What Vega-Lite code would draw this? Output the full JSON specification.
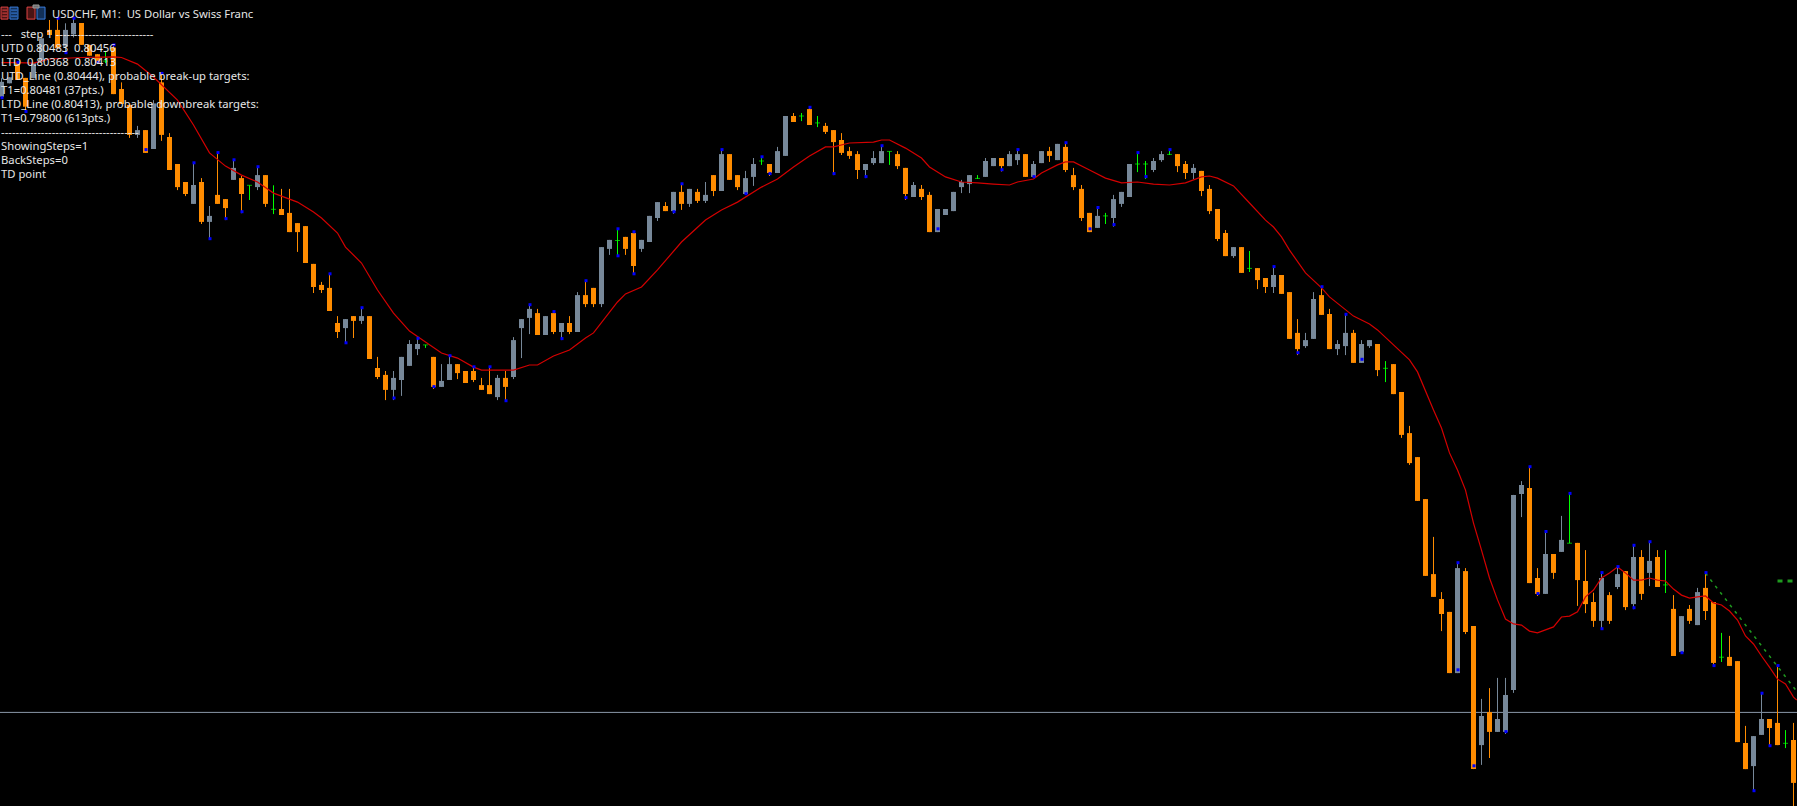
{"$schema":"https://vega.github.io/schema/vega-lite/v6.json","width":1797,"height":806,"autosize":{"type":"none"},"padding":0,"background":"#000000","config":{"view":{"stroke":null},"axis":{"disable":true},"scale":{"continuousPadding":0}},"datasets":{"candles":[
{"k":0,"type":"up","o":0.806424,"h":0.806486,"l":0.806418,"c":0.806474},
{"k":1,"type":"up","o":0.806469,"h":0.806489,"l":0.806469,"c":0.806489},
{"k":2,"type":"down","o":0.806536,"h":0.806539,"l":0.80648,"c":0.80648},
{"k":3,"type":"down","o":0.806487,"h":0.806487,"l":0.806375,"c":0.806391},
{"k":4,"type":"up","o":0.806486,"h":0.806536,"l":0.806486,"c":0.806536},
{"k":5,"type":"up","o":0.806541,"h":0.806619,"l":0.806541,"c":0.806619},
{"k":6,"type":"down","o":0.806647,"h":0.80668,"l":0.80663,"c":0.80663},
{"k":7,"type":"down","o":0.806647,"h":0.806686,"l":0.806586,"c":0.806586},
{"k":8,"type":"up","o":0.806591,"h":0.806669,"l":0.806571,"c":0.806647},
{"k":9,"type":"up","o":0.806632,"h":0.806686,"l":0.806622,"c":0.80667},
{"k":10,"type":"down","o":0.80667,"h":0.80667,"l":0.806597,"c":0.806597},
{"k":11,"type":"down","o":0.806597,"h":0.806597,"l":0.806561,"c":0.806561},
{"k":12,"type":"down","o":0.806566,"h":0.806566,"l":0.806536,"c":0.806536},
{"k":13,"type":"doji","o":0.806543,"h":0.806577,"l":0.806536,"c":0.806543},
{"k":14,"type":"down","o":0.806588,"h":0.806597,"l":0.806433,"c":0.806433},
{"k":15,"type":"down","o":0.80645,"h":0.806472,"l":0.8064,"c":0.8064},
{"k":16,"type":"down","o":0.806397,"h":0.806397,"l":0.806287,"c":0.806297},
{"k":17,"type":"up","o":0.806297,"h":0.806327,"l":0.806287,"c":0.806313},
{"k":18,"type":"down","o":0.806313,"h":0.806313,"l":0.806237,"c":0.806237},
{"k":19,"type":"up","o":0.80625,"h":0.806413,"l":0.80625,"c":0.806402},
{"k":20,"type":"down","o":0.806472,"h":0.806502,"l":0.806277,"c":0.806297},
{"k":21,"type":"down","o":0.80629,"h":0.806303,"l":0.80618,"c":0.80618},
{"k":22,"type":"down","o":0.8062,"h":0.8062,"l":0.806113,"c":0.806123},
{"k":23,"type":"down","o":0.80614,"h":0.80614,"l":0.806093,"c":0.8061},
{"k":24,"type":"up","o":0.806067,"h":0.806204,"l":0.806067,"c":0.80613},
{"k":25,"type":"down","o":0.80614,"h":0.806153,"l":0.806,"c":0.806007},
{"k":26,"type":"up","o":0.806007,"h":0.80606,"l":0.805947,"c":0.806027},
{"k":27,"type":"down","o":0.806097,"h":0.806238,"l":0.806067,"c":0.806067},
{"k":28,"type":"down","o":0.806083,"h":0.806083,"l":0.806013,"c":0.806053},
{"k":29,"type":"up","o":0.806147,"h":0.806214,"l":0.806147,"c":0.806187},
{"k":30,"type":"down","o":0.806153,"h":0.80616,"l":0.806036,"c":0.8061},
{"k":31,"type":"doji","o":0.806129,"h":0.806129,"l":0.80608,"c":0.806129},
{"k":32,"type":"up","o":0.806123,"h":0.806191,"l":0.806113,"c":0.806163},
{"k":33,"type":"down","o":0.806163,"h":0.806163,"l":0.806057,"c":0.806067},
{"k":34,"type":"doji","o":0.806049,"h":0.806129,"l":0.806033,"c":0.806049},
{"k":35,"type":"down","o":0.80605,"h":0.806117,"l":0.80603,"c":0.80603},
{"k":36,"type":"down","o":0.806037,"h":0.806117,"l":0.805973,"c":0.805973},
{"k":37,"type":"down","o":0.806003,"h":0.806003,"l":0.805907,"c":0.805973},
{"k":38,"type":"down","o":0.805993,"h":0.805993,"l":0.80587,"c":0.80587},
{"k":39,"type":"down","o":0.805867,"h":0.805867,"l":0.80577,"c":0.80579},
{"k":40,"type":"down","o":0.805797,"h":0.805807,"l":0.80577,"c":0.80578},
{"k":41,"type":"down","o":0.805787,"h":0.805834,"l":0.80571,"c":0.80571},
{"k":42,"type":"down","o":0.80567,"h":0.805693,"l":0.80562,"c":0.80564},
{"k":43,"type":"up","o":0.805653,"h":0.805683,"l":0.8056,"c":0.805683},
{"k":44,"type":"down","o":0.805693,"h":0.805693,"l":0.80562,"c":0.805677},
{"k":45,"type":"up","o":0.805677,"h":0.805721,"l":0.805667,"c":0.805693},
{"k":46,"type":"down","o":0.805693,"h":0.805693,"l":0.80555,"c":0.80555},
{"k":47,"type":"down","o":0.80552,"h":0.805557,"l":0.805483,"c":0.80549},
{"k":48,"type":"down","o":0.805497,"h":0.80551,"l":0.805413,"c":0.805447},
{"k":49,"type":"up","o":0.805447,"h":0.80551,"l":0.805413,"c":0.805487},
{"k":50,"type":"up","o":0.80548,"h":0.805557,"l":0.805427,"c":0.805557},
{"k":51,"type":"up","o":0.805527,"h":0.805613,"l":0.805527,"c":0.8056},
{"k":52,"type":"up","o":0.805583,"h":0.805619,"l":0.805563,"c":0.8056},
{"k":53,"type":"doji","o":0.805597,"h":0.805597,"l":0.805587,"c":0.805597},
{"k":54,"type":"down","o":0.805557,"h":0.805557,"l":0.80545,"c":0.805457},
{"k":55,"type":"up","o":0.805457,"h":0.805533,"l":0.805457,"c":0.805477},
{"k":56,"type":"up","o":0.80548,"h":0.805561,"l":0.80548,"c":0.805533},
{"k":57,"type":"down","o":0.805533,"h":0.805533,"l":0.805483,"c":0.805503},
{"k":58,"type":"down","o":0.80551,"h":0.80551,"l":0.80547,"c":0.80547},
{"k":59,"type":"down","o":0.80551,"h":0.805524,"l":0.805473,"c":0.80548},
{"k":60,"type":"down","o":0.805463,"h":0.805487,"l":0.805447,"c":0.805447},
{"k":61,"type":"down","o":0.805463,"h":0.805524,"l":0.805433,"c":0.805433},
{"k":62,"type":"up","o":0.805423,"h":0.805497,"l":0.805413,"c":0.805487},
{"k":63,"type":"down","o":0.805487,"h":0.80551,"l":0.805407,"c":0.805457},
{"k":64,"type":"up","o":0.80549,"h":0.805623,"l":0.805483,"c":0.805613},
{"k":65,"type":"up","o":0.805653,"h":0.805683,"l":0.805553,"c":0.805683},
{"k":66,"type":"up","o":0.805687,"h":0.805731,"l":0.805633,"c":0.805717},
{"k":67,"type":"down","o":0.805703,"h":0.805717,"l":0.80563,"c":0.80563},
{"k":68,"type":"up","o":0.80563,"h":0.805693,"l":0.80563,"c":0.805693},
{"k":69,"type":"down","o":0.805703,"h":0.805708,"l":0.805633,"c":0.80564},
{"k":70,"type":"up","o":0.80564,"h":0.80567,"l":0.805613,"c":0.80567},
{"k":71,"type":"down","o":0.80567,"h":0.805693,"l":0.805633,"c":0.80564},
{"k":72,"type":"up","o":0.80564,"h":0.805773,"l":0.80564,"c":0.805763},
{"k":73,"type":"down","o":0.805763,"h":0.805811,"l":0.805723,"c":0.805733},
{"k":74,"type":"down","o":0.805787,"h":0.805787,"l":0.805723,"c":0.805733},
{"k":75,"type":"up","o":0.805733,"h":0.805923,"l":0.805723,"c":0.805923},
{"k":76,"type":"up","o":0.805917,"h":0.805947,"l":0.805897,"c":0.805947},
{"k":77,"type":"doji","o":0.805945,"h":0.805984,"l":0.805894,"c":0.805945},
{"k":78,"type":"down","o":0.805957,"h":0.805957,"l":0.805897,"c":0.805917},
{"k":79,"type":"down","o":0.80597,"h":0.805974,"l":0.80583,"c":0.80586},
{"k":80,"type":"up","o":0.805917,"h":0.805947,"l":0.805907,"c":0.805947},
{"k":81,"type":"up","o":0.80594,"h":0.806027,"l":0.80594,"c":0.806027},
{"k":82,"type":"up","o":0.80602,"h":0.806073,"l":0.80601,"c":0.806073},
{"k":83,"type":"down","o":0.80606,"h":0.806073,"l":0.806043,"c":0.806043},
{"k":84,"type":"up","o":0.806043,"h":0.806107,"l":0.806034,"c":0.806107},
{"k":85,"type":"down","o":0.806107,"h":0.806134,"l":0.806047,"c":0.806067},
{"k":86,"type":"up","o":0.806067,"h":0.806117,"l":0.806057,"c":0.806117},
{"k":87,"type":"down","o":0.806107,"h":0.806117,"l":0.80607,"c":0.806077},
{"k":88,"type":"up","o":0.806077,"h":0.80614,"l":0.80607,"c":0.806097},
{"k":89,"type":"down","o":0.806163,"h":0.806163,"l":0.806093,"c":0.80611},
{"k":90,"type":"up","o":0.80611,"h":0.806248,"l":0.80611,"c":0.806233},
{"k":91,"type":"down","o":0.806233,"h":0.806233,"l":0.806147,"c":0.806147},
{"k":92,"type":"down","o":0.806163,"h":0.806163,"l":0.806113,"c":0.806123},
{"k":93,"type":"up","o":0.8061,"h":0.806177,"l":0.8061,"c":0.806153},
{"k":94,"type":"up","o":0.806157,"h":0.80622,"l":0.806127,"c":0.8062},
{"k":95,"type":"doji","o":0.80621,"h":0.806224,"l":0.806197,"c":0.80621},
{"k":96,"type":"down","o":0.8062,"h":0.8062,"l":0.80616,"c":0.80617},
{"k":97,"type":"up","o":0.80617,"h":0.806257,"l":0.80617,"c":0.806243},
{"k":98,"type":"up","o":0.806227,"h":0.80636,"l":0.806227,"c":0.80636},
{"k":99,"type":"down","o":0.80636,"h":0.80637,"l":0.80634,"c":0.80634},
{"k":100,"type":"doji","o":0.80636,"h":0.80637,"l":0.806343,"c":0.80636},
{"k":101,"type":"down","o":0.806383,"h":0.806389,"l":0.80633,"c":0.80633},
{"k":102,"type":"doji","o":0.806337,"h":0.80636,"l":0.806323,"c":0.806337},
{"k":103,"type":"down","o":0.806327,"h":0.806337,"l":0.8063,"c":0.806307},
{"k":104,"type":"down","o":0.806313,"h":0.806313,"l":0.806163,"c":0.806273},
{"k":105,"type":"down","o":0.80628,"h":0.806303,"l":0.80623,"c":0.806237},
{"k":106,"type":"down","o":0.806243,"h":0.806257,"l":0.806217,"c":0.806227},
{"k":107,"type":"down","o":0.806233,"h":0.806243,"l":0.80615,"c":0.80618},
{"k":108,"type":"up","o":0.80618,"h":0.8062,"l":0.806153,"c":0.8062},
{"k":109,"type":"up","o":0.806203,"h":0.806243,"l":0.806197,"c":0.80622},
{"k":110,"type":"up","o":0.806203,"h":0.806261,"l":0.806203,"c":0.806243},
{"k":111,"type":"doji","o":0.806242,"h":0.806242,"l":0.806197,"c":0.806242},
{"k":112,"type":"down","o":0.806233,"h":0.806243,"l":0.806183,"c":0.806193},
{"k":113,"type":"down","o":0.806187,"h":0.806187,"l":0.80608,"c":0.8061},
{"k":114,"type":"up","o":0.80609,"h":0.80614,"l":0.80609,"c":0.80613},
{"k":115,"type":"down","o":0.806117,"h":0.80613,"l":0.80608,"c":0.80609},
{"k":116,"type":"down","o":0.806097,"h":0.806107,"l":0.805973,"c":0.805973},
{"k":117,"type":"up","o":0.805973,"h":0.80605,"l":0.805973,"c":0.80605},
{"k":118,"type":"up","o":0.80603,"h":0.80605,"l":0.80603,"c":0.80605},
{"k":119,"type":"up","o":0.806043,"h":0.806107,"l":0.806043,"c":0.806107},
{"k":120,"type":"up","o":0.806123,"h":0.806147,"l":0.806103,"c":0.80614},
{"k":121,"type":"up","o":0.806133,"h":0.806163,"l":0.806103,"c":0.806163},
{"k":122,"type":"doji","o":0.806152,"h":0.806163,"l":0.80615,"c":0.806152},
{"k":123,"type":"up","o":0.806157,"h":0.80622,"l":0.806157,"c":0.80621},
{"k":124,"type":"up","o":0.806193,"h":0.80622,"l":0.806193,"c":0.80622},
{"k":125,"type":"down","o":0.80622,"h":0.80622,"l":0.806175,"c":0.806193},
{"k":126,"type":"up","o":0.806193,"h":0.806243,"l":0.806193,"c":0.806233},
{"k":127,"type":"up","o":0.806213,"h":0.806248,"l":0.806197,"c":0.806233},
{"k":128,"type":"down","o":0.806233,"h":0.806233,"l":0.806157,"c":0.806157},
{"k":129,"type":"up","o":0.806157,"h":0.80621,"l":0.806157,"c":0.8062},
{"k":130,"type":"up","o":0.806203,"h":0.806243,"l":0.806203,"c":0.806243},
{"k":131,"type":"down","o":0.806243,"h":0.806257,"l":0.806207,"c":0.806227},
{"k":132,"type":"up","o":0.806213,"h":0.806267,"l":0.806213,"c":0.806267},
{"k":133,"type":"down","o":0.806257,"h":0.806271,"l":0.806173,"c":0.80618},
{"k":134,"type":"down","o":0.806163,"h":0.806187,"l":0.806113,"c":0.806123},
{"k":135,"type":"down","o":0.806117,"h":0.80613,"l":0.80601,"c":0.80602},
{"k":136,"type":"down","o":0.806037,"h":0.806037,"l":0.805973,"c":0.805973},
{"k":137,"type":"up","o":0.805987,"h":0.806055,"l":0.805987,"c":0.806027},
{"k":138,"type":"doji","o":0.806027,"h":0.806037,"l":0.806,"c":0.806027},
{"k":139,"type":"up","o":0.80602,"h":0.806097,"l":0.805991,"c":0.806083},
{"k":140,"type":"up","o":0.806067,"h":0.806107,"l":0.806057,"c":0.806107},
{"k":141,"type":"up","o":0.80609,"h":0.8062,"l":0.80609,"c":0.8062},
{"k":142,"type":"doji","o":0.8062,"h":0.806238,"l":0.806173,"c":0.8062},
{"k":143,"type":"doji","o":0.8062,"h":0.80621,"l":0.80615,"c":0.8062},
{"k":144,"type":"up","o":0.80618,"h":0.80622,"l":0.806173,"c":0.80621},
{"k":145,"type":"up","o":0.806213,"h":0.806243,"l":0.806207,"c":0.806233},
{"k":146,"type":"doji","o":0.806232,"h":0.806248,"l":0.80623,"c":0.806232},
{"k":147,"type":"down","o":0.806233,"h":0.806233,"l":0.806173,"c":0.806193},
{"k":148,"type":"down","o":0.8062,"h":0.80621,"l":0.80615,"c":0.80617},
{"k":149,"type":"up","o":0.80617,"h":0.8062,"l":0.80615,"c":0.806187},
{"k":150,"type":"down","o":0.806177,"h":0.806177,"l":0.806093,"c":0.80611},
{"k":151,"type":"down","o":0.806117,"h":0.80613,"l":0.806033,"c":0.806043},
{"k":152,"type":"down","o":0.80605,"h":0.80605,"l":0.805943,"c":0.80595},
{"k":153,"type":"down","o":0.80597,"h":0.80598,"l":0.805893,"c":0.805893},
{"k":154,"type":"up","o":0.805893,"h":0.805923,"l":0.805887,"c":0.805923},
{"k":155,"type":"down","o":0.805923,"h":0.805923,"l":0.805837,"c":0.805837},
{"k":156,"type":"doji","o":0.805852,"h":0.80591,"l":0.80584,"c":0.805852},
{"k":157,"type":"down","o":0.805853,"h":0.805853,"l":0.805783,"c":0.805813},
{"k":158,"type":"down","o":0.80582,"h":0.80582,"l":0.80577,"c":0.80579},
{"k":159,"type":"up","o":0.80579,"h":0.805858,"l":0.80577,"c":0.80583},
{"k":160,"type":"down","o":0.80583,"h":0.80583,"l":0.805767,"c":0.805767},
{"k":161,"type":"down","o":0.805773,"h":0.805773,"l":0.805617,"c":0.805617},
{"k":162,"type":"down","o":0.805637,"h":0.805683,"l":0.805563,"c":0.805583},
{"k":163,"type":"up","o":0.805593,"h":0.805637,"l":0.805587,"c":0.805613},
{"k":164,"type":"up","o":0.805617,"h":0.805773,"l":0.805617,"c":0.80575},
{"k":165,"type":"down","o":0.805763,"h":0.805791,"l":0.805697,"c":0.805697},
{"k":166,"type":"down","o":0.8057,"h":0.805717,"l":0.805583,"c":0.805583},
{"k":167,"type":"up","o":0.805583,"h":0.805613,"l":0.805563,"c":0.8056},
{"k":168,"type":"up","o":0.805593,"h":0.805699,"l":0.805563,"c":0.805637},
{"k":169,"type":"down","o":0.805637,"h":0.805647,"l":0.805537,"c":0.805537},
{"k":170,"type":"up","o":0.805537,"h":0.805613,"l":0.805537,"c":0.8056},
{"k":171,"type":"up","o":0.805593,"h":0.805613,"l":0.805587,"c":0.805613},
{"k":172,"type":"down","o":0.8056,"h":0.8056,"l":0.805493,"c":0.805513},
{"k":173,"type":"doji","o":0.805519,"h":0.805543,"l":0.805473,"c":0.805519},
{"k":174,"type":"down","o":0.805533,"h":0.805533,"l":0.805433,"c":0.805433},
{"k":175,"type":"down","o":0.80544,"h":0.80544,"l":0.805287,"c":0.805297},
{"k":176,"type":"down","o":0.805303,"h":0.805327,"l":0.805197,"c":0.805203},
{"k":177,"type":"down","o":0.805223,"h":0.805223,"l":0.805077,"c":0.805077},
{"k":178,"type":"down","o":0.805083,"h":0.805083,"l":0.804827,"c":0.804827},
{"k":179,"type":"down","o":0.804833,"h":0.804957,"l":0.804757,"c":0.804757},
{"k":180,"type":"down","o":0.80475,"h":0.804773,"l":0.804643,"c":0.8047},
{"k":181,"type":"down","o":0.804707,"h":0.804707,"l":0.804503,"c":0.804503},
{"k":182,"type":"up","o":0.804503,"h":0.804871,"l":0.804503,"c":0.804853},
{"k":183,"type":"down","o":0.804843,"h":0.804853,"l":0.804633,"c":0.80464},
{"k":184,"type":"down","o":0.80466,"h":0.80466,"l":0.804183,"c":0.804183},
{"k":185,"type":"up","o":0.804263,"h":0.804417,"l":0.804197,"c":0.80436},
{"k":186,"type":"down","o":0.804373,"h":0.804453,"l":0.80422,"c":0.804307},
{"k":187,"type":"up","o":0.804307,"h":0.804487,"l":0.804307,"c":0.80435},
{"k":188,"type":"up","o":0.804307,"h":0.804487,"l":0.8043,"c":0.80443},
{"k":189,"type":"up","o":0.804447,"h":0.805097,"l":0.804437,"c":0.805097},
{"k":190,"type":"up","o":0.8051,"h":0.805143,"l":0.805023,"c":0.80513},
{"k":191,"type":"down","o":0.80512,"h":0.805191,"l":0.804803,"c":0.804803},
{"k":192,"type":"down","o":0.80482,"h":0.804853,"l":0.80476,"c":0.804767},
{"k":193,"type":"up","o":0.804767,"h":0.804975,"l":0.804767,"c":0.8049},
{"k":194,"type":"down","o":0.8049,"h":0.8049,"l":0.804817,"c":0.804837},
{"k":195,"type":"up","o":0.804907,"h":0.805027,"l":0.804907,"c":0.804947},
{"k":196,"type":"doji","o":0.804936,"h":0.805102,"l":0.804936,"c":0.804936},
{"k":197,"type":"down","o":0.804937,"h":0.804937,"l":0.804727,"c":0.804813},
{"k":198,"type":"down","o":0.80481,"h":0.804913,"l":0.804703,"c":0.804733},
{"k":199,"type":"down","o":0.80474,"h":0.804771,"l":0.804657,"c":0.804677},
{"k":200,"type":"up","o":0.804677,"h":0.804838,"l":0.804647,"c":0.80482},
{"k":201,"type":"down","o":0.804763,"h":0.804773,"l":0.804667,"c":0.804677},
{"k":202,"type":"up","o":0.80479,"h":0.804858,"l":0.804783,"c":0.804833},
{"k":203,"type":"down","o":0.804843,"h":0.804843,"l":0.804713,"c":0.804723},
{"k":204,"type":"up","o":0.804733,"h":0.804929,"l":0.804716,"c":0.80489},
{"k":205,"type":"down","o":0.80489,"h":0.804913,"l":0.804747,"c":0.804767},
{"k":206,"type":"up","o":0.804837,"h":0.804941,"l":0.804793,"c":0.804877},
{"k":207,"type":"down","o":0.80489,"h":0.804913,"l":0.80479,"c":0.80479},
{"k":208,"type":"doji","o":0.804797,"h":0.804913,"l":0.80477,"c":0.804797},
{"k":209,"type":"down","o":0.804717,"h":0.804763,"l":0.80456,"c":0.80456},
{"k":210,"type":"up","o":0.804573,"h":0.804693,"l":0.804567,"c":0.804693},
{"k":211,"type":"down","o":0.804717,"h":0.80473,"l":0.804667,"c":0.804677},
{"k":212,"type":"up","o":0.804663,"h":0.804787,"l":0.804663,"c":0.804773},
{"k":213,"type":"down","o":0.804787,"h":0.804838,"l":0.80468,"c":0.80471},
{"k":214,"type":"down","o":0.80474,"h":0.80474,"l":0.804525,"c":0.804537},
{"k":215,"type":"doji","o":0.804556,"h":0.804637,"l":0.80454,"c":0.804556},
{"k":216,"type":"down","o":0.804557,"h":0.804627,"l":0.804527,"c":0.804527},
{"k":217,"type":"down","o":0.804543,"h":0.804543,"l":0.804273,"c":0.804273},
{"k":218,"type":"down","o":0.80427,"h":0.804327,"l":0.804183,"c":0.804183},
{"k":219,"type":"up","o":0.804193,"h":0.804293,"l":0.804107,"c":0.804293},
{"k":220,"type":"up","o":0.804297,"h":0.804436,"l":0.804297,"c":0.80435},
{"k":221,"type":"down","o":0.80435,"h":0.80435,"l":0.80426,"c":0.80432},
{"k":222,"type":"down","o":0.804337,"h":0.804528,"l":0.804263,"c":0.804263},
{"k":223,"type":"doji","o":0.804269,"h":0.804313,"l":0.804253,"c":0.804269},
{"k":224,"type":"down","o":0.80428,"h":0.804337,"l":0.80406,"c":0.804137}
],"ma":[
{"k":0,"ma":0.806538},{"k":2,"ma":0.806538},{"k":4,"ma":0.806536},{"k":6,"ma":0.80655},{"k":10,"ma":0.806555},{"k":14,"ma":0.806557},{"k":15,"ma":0.806555},{"k":17,"ma":0.806533},{"k":19,"ma":0.80649},{"k":22,"ma":0.806413},{"k":24,"ma":0.80633},{"k":26,"ma":0.806237},{"k":28,"ma":0.806193},{"k":30,"ma":0.806163},{"k":32,"ma":0.80614},{"k":34,"ma":0.806103},{"k":37,"ma":0.806073},{"k":39,"ma":0.80604},{"k":40,"ma":0.80602},{"k":42,"ma":0.80597},{"k":43,"ma":0.805923},{"k":45,"ma":0.80587},{"k":47,"ma":0.80578},{"k":49,"ma":0.805703},{"k":51,"ma":0.805643},{"k":53,"ma":0.805607},{"k":55,"ma":0.80557},{"k":57,"ma":0.805553},{"k":59,"ma":0.805523},{"k":60,"ma":0.805513},{"k":64,"ma":0.805513},{"k":66,"ma":0.80553},{"k":67,"ma":0.80553},{"k":69,"ma":0.80556},{"k":71,"ma":0.80558},{"k":73,"ma":0.80562},{"k":74,"ma":0.805637},{"k":77,"ma":0.80574},{"k":78,"ma":0.805767},{"k":80,"ma":0.80579},{"k":82,"ma":0.805847},{"k":85,"ma":0.80594},{"k":88,"ma":0.806013},{"k":90,"ma":0.806047},{"k":92,"ma":0.806073},{"k":95,"ma":0.806123},{"k":97,"ma":0.80615},{"k":99,"ma":0.80619},{"k":101,"ma":0.806227},{"k":103,"ma":0.806257},{"k":104,"ma":0.806257},{"k":106,"ma":0.80627},{"k":109,"ma":0.806273},{"k":110,"ma":0.80628},{"k":111,"ma":0.80628},{"k":113,"ma":0.806253},{"k":115,"ma":0.80622},{"k":116,"ma":0.80619},{"k":118,"ma":0.806157},{"k":120,"ma":0.80614},{"k":122,"ma":0.806137},{"k":124,"ma":0.806133},{"k":126,"ma":0.80613},{"k":127,"ma":0.80614},{"k":129,"ma":0.80615},{"k":130,"ma":0.80617},{"k":132,"ma":0.806197},{"k":133,"ma":0.806207},{"k":134,"ma":0.806207},{"k":136,"ma":0.80618},{"k":138,"ma":0.806153},{"k":140,"ma":0.806137},{"k":142,"ma":0.80614},{"k":144,"ma":0.806133},{"k":146,"ma":0.80613},{"k":148,"ma":0.806137},{"k":150,"ma":0.806157},{"k":151,"ma":0.80616},{"k":152,"ma":0.806153},{"k":154,"ma":0.806127},{"k":156,"ma":0.80607},{"k":158,"ma":0.806013},{"k":159,"ma":0.80599},{"k":160,"ma":0.805957},{"k":161,"ma":0.805913},{"k":163,"ma":0.805837},{"k":165,"ma":0.805787},{"k":166,"ma":0.805757},{"k":169,"ma":0.805693},{"k":171,"ma":0.805667},{"k":172,"ma":0.805647},{"k":174,"ma":0.805597},{"k":176,"ma":0.805547},{"k":177,"ma":0.805507},{"k":179,"ma":0.80538},{"k":180,"ma":0.80532},{"k":181,"ma":0.805237},{"k":182,"ma":0.80518},{"k":183,"ma":0.805113},{"k":184,"ma":0.805003},{"k":185,"ma":0.804913},{"k":186,"ma":0.80482},{"k":187,"ma":0.804747},{"k":188,"ma":0.804683},{"k":189,"ma":0.804667},{"k":190,"ma":0.804663},{"k":191,"ma":0.804643},{"k":192,"ma":0.804637},{"k":194,"ma":0.804657},{"k":195,"ma":0.80469},{"k":196,"ma":0.804693},{"k":197,"ma":0.804707},{"k":198,"ma":0.804757},{"k":199,"ma":0.80478},{"k":200,"ma":0.80482},{"k":201,"ma":0.804837},{"k":202,"ma":0.804857},{"k":203,"ma":0.804837},{"k":204,"ma":0.804813},{"k":205,"ma":0.804813},{"k":206,"ma":0.80482},{"k":207,"ma":0.804813},{"k":208,"ma":0.80481},{"k":209,"ma":0.804783},{"k":210,"ma":0.804763},{"k":211,"ma":0.804753},{"k":212,"ma":0.804757},{"k":213,"ma":0.80476},{"k":214,"ma":0.804737},{"k":215,"ma":0.80473},{"k":216,"ma":0.80471},{"k":217,"ma":0.80468},{"k":218,"ma":0.804627},{"k":219,"ma":0.8046},{"k":220,"ma":0.80456},{"k":221,"ma":0.804523},{"k":222,"ma":0.804483},{"k":223,"ma":0.804467},{"k":224,"ma":0.804423},{"k":224.4,"ma":0.804413}
],"td":[
{"k":0,"p":0.806421},{"k":2,"p":0.806539},{"k":3,"p":0.806375},{"k":7,"p":0.806686},{"k":8,"p":0.806571},{"k":9,"p":0.806686},{"k":12,"p":0.806539},{"k":14,"p":0.806597},{"k":18,"p":0.806248},{"k":20,"p":0.806502},{"k":24,"p":0.806204},{"k":26,"p":0.805951},{"k":27,"p":0.806238},{"k":28,"p":0.806018},{"k":29,"p":0.806214},{"k":30,"p":0.806041},{"k":32,"p":0.806191},{"k":41,"p":0.805834},{"k":43,"p":0.805604},{"k":45,"p":0.805721},{"k":49,"p":0.80542},{"k":52,"p":0.805619},{"k":54,"p":0.805458},{"k":56,"p":0.805561},{"k":59,"p":0.805524},{"k":61,"p":0.805524},{"k":63,"p":0.805411},{"k":66,"p":0.805731},{"k":69,"p":0.805708},{"k":70,"p":0.805618},{"k":73,"p":0.805811},{"k":77,"p":0.805984},{"k":77,"p":0.805894},{"k":79,"p":0.805974},{"k":79,"p":0.805834},{"k":84,"p":0.806041},{"k":85,"p":0.806134},{"k":90,"p":0.806248},{"k":93,"p":0.806101},{"k":95,"p":0.806224},{"k":96,"p":0.806168},{"k":101,"p":0.806389},{"k":104,"p":0.806168},{"k":108,"p":0.806158},{"k":110,"p":0.806261},{"k":113,"p":0.806088},{"k":117,"p":0.805984},{"k":125,"p":0.806181},{"k":127,"p":0.806248},{"k":129,"p":0.806158},{"k":133,"p":0.806271},{"k":136,"p":0.805984},{"k":137,"p":0.806055},{"k":139,"p":0.805998},{"k":142,"p":0.806238},{"k":143,"p":0.806158},{"k":146,"p":0.806248},{"k":159,"p":0.805858},{"k":162,"p":0.805571},{"k":165,"p":0.805791},{"k":168,"p":0.805699},{"k":170,"p":0.805549},{"k":182,"p":0.804871},{"k":182,"p":0.804514},{"k":184,"p":0.804194},{"k":188,"p":0.804308},{"k":191,"p":0.805191},{"k":192,"p":0.804768},{"k":193,"p":0.804975},{"k":196,"p":0.805102},{"k":200,"p":0.804838},{"k":200,"p":0.804651},{"k":202,"p":0.804858},{"k":204,"p":0.804929},{"k":204,"p":0.804721},{"k":206,"p":0.804941},{"k":210,"p":0.804571},{"k":213,"p":0.804838},{"k":214,"p":0.804528},{"k":219,"p":0.804111},{"k":220,"p":0.804436},{"k":221,"p":0.804261},{"k":222,"p":0.804528}
],"icons":[
{"part":"red","k0":-0.06,"k1":0.81,"p0":0.806723,"p1":0.806683},
{"part":"blue","k0":1.06,"k1":2.06,"p0":0.806723,"p1":0.806683},
{"part":"red","k0":3.19,"k1":4.19,"p0":0.806723,"p1":0.806683},
{"part":"blue","k0":4.44,"k1":5.44,"p0":0.806723,"p1":0.806683},
{"part":"grey","k0":3.94,"k1":4.69,"p0":0.80673,"p1":0.80672}
],"iconlines":[
{"part":"red","k0":0.1,"k1":0.7,"p":0.806713},{"part":"red","k0":0.1,"k1":0.7,"p":0.806703},{"part":"red","k0":0.1,"k1":0.7,"p":0.806693},
{"part":"blue","k0":1.2,"k1":1.95,"p":0.806713},{"part":"blue","k0":1.2,"k1":1.95,"p":0.806703},{"part":"blue","k0":1.2,"k1":1.95,"p":0.806693}
]},"layer":[{"layer":[
{"data":{"values":[{"level":"bid","p":0.804372}]},"mark":{"type":"rule","color":"#8a98a8","strokeWidth":1},"encoding":{"y":{"field":"p","type":"quantitative","scale":{"domain":[0.80406,0.80674667],"nice":false,"zero":false}}}},
{"data":{"name":"candles"},"mark":{"type":"rule","strokeWidth":1},"encoding":{"x":{"field":"k","type":"quantitative","scale":{"domain":[-0.1875,224.4375],"nice":false,"zero":false}},"y":{"field":"h","type":"quantitative"},"y2":{"field":"l"},"color":{"field":"type","type":"nominal","scale":{"domain":["down","up","doji"],"range":["#ff8c00","#778899","#00ff00"]},"legend":null}}},
{"data":{"name":"candles"},"transform":[{"filter":"datum.type !== 'doji'"}],"mark":{"type":"bar","width":5},"encoding":{"x":{"field":"k","type":"quantitative"},"y":{"field":"o","type":"quantitative"},"y2":{"field":"c"},"color":{"field":"type","type":"nominal","legend":null}}},
{"data":{"name":"candles"},"transform":[{"filter":"datum.type === 'doji'"}],"mark":{"type":"tick","orient":"horizontal","size":5,"thickness":1},"encoding":{"x":{"field":"k","type":"quantitative"},"y":{"field":"o","type":"quantitative"},"color":{"field":"type","type":"nominal","legend":null}}},
{"data":{"values":[{"k":213,"p":0.804836},{"k":224.44,"p":0.804441}]},"mark":{"type":"line","color":"#1f9a1f","strokeWidth":1.5,"strokeDash":[3,5]},"encoding":{"x":{"field":"k","type":"quantitative"},"y":{"field":"p","type":"quantitative"}}},
{"data":{"values":[{"k":222,"p":0.80481},{"k":224.44,"p":0.80481}]},"mark":{"type":"line","color":"#1f9a1f","strokeWidth":3,"strokeDash":[5,5]},"encoding":{"x":{"field":"k","type":"quantitative"},"y":{"field":"p","type":"quantitative"}}},
{"data":{"name":"ma"},"mark":{"type":"line","color":"#d40000","strokeWidth":1.2},"encoding":{"x":{"field":"k","type":"quantitative"},"y":{"field":"ma","type":"quantitative"}}},
{"data":{"name":"td"},"mark":{"type":"square","color":"#0000ff","size":9,"opacity":1,"xOffset":0.5},"encoding":{"x":{"field":"k","type":"quantitative"},"y":{"field":"p","type":"quantitative"}}},
{"data":{"name":"icons"},"mark":{"type":"rect","strokeWidth":1},"encoding":{"x":{"field":"k0","type":"quantitative"},"x2":{"field":"k1"},"y":{"field":"p0","type":"quantitative"},"y2":{"field":"p1"},"stroke":{"field":"part","type":"nominal","scale":{"domain":["red","blue","grey"],"range":["#e04545","#3a7fe0","#9a9a9a"]},"legend":null},"fill":{"field":"part","type":"nominal","scale":{"domain":["red","blue","grey"],"range":["#4a1414","#123058","#707070"]},"legend":null}}},
{"data":{"name":"iconlines"},"mark":{"type":"rule","strokeWidth":1},"encoding":{"x":{"field":"k0","type":"quantitative"},"x2":{"field":"k1"},"y":{"field":"p","type":"quantitative"},"stroke":{"field":"part","type":"nominal","legend":null}}}
]},
{"data":{"values":[{"n":0,"t":"---\u00a0\u00a0\u00a0step 1 ---------------------------"},{"n":1,"t":"UTD 0.80483\u00a0\u00a00.80456"},{"n":2,"t":"LTD\u00a0\u00a00.80368\u00a0\u00a00.80413"},{"n":3,"t":"UTD_Line (0.80444), probable break-up targets:"},{"n":4,"t":"T1=0.80481 (37pts.)"},{"n":5,"t":"LTD_Line (0.80413), probable downbreak targets:"},{"n":6,"t":"T1=0.79800 (613pts.)"},{"n":7,"t":"--------------------------------------"},{"n":8,"t":"ShowingSteps=1"},{"n":9,"t":"BackSteps=0"},{"n":10,"t":"TD point"}]},"mark":{"type":"text","align":"left","baseline":"middle","font":"Noto Sans","fontSize":11.25,"color":"#e6e6e6"},"encoding":{"x":{"datum":-0.06,"type":"quantitative","scale":{"domain":[-0.1875,224.4375],"nice":false,"zero":false}},"y":{"field":"n","type":"quantitative","scale":{"domain":[55.09,-2.48],"nice":false,"zero":false}},"text":{"field":"t"}}},
{"data":{"values":[{"n":-1.41,"t":"USDCHF, M1:\u00a0\u00a0US Dollar vs Swiss Franc"}]},"mark":{"type":"text","align":"left","baseline":"middle","font":"Noto Sans","fontSize":11.25,"color":"#e6e6e6"},"encoding":{"x":{"datum":6.31,"type":"quantitative","scale":{"domain":[-0.1875,224.4375],"nice":false,"zero":false}},"y":{"field":"n","type":"quantitative","scale":{"domain":[55.09,-2.48],"nice":false,"zero":false}},"text":{"field":"t"}}}
],"resolve":{"scale":{"y":"independent"}}}
